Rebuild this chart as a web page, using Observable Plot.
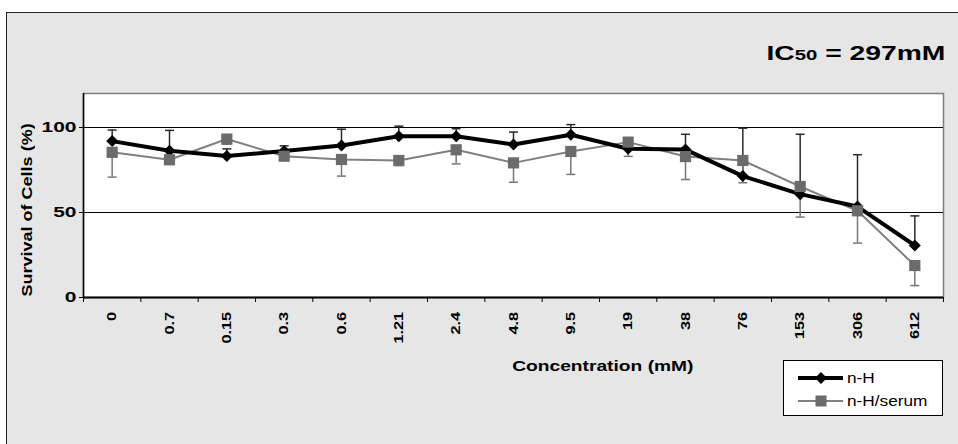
<!DOCTYPE html>
<html><head><meta charset="utf-8">
<script src="https://cdn.jsdelivr.net/npm/d3@7"></script>
<script src="https://cdn.jsdelivr.net/npm/@observablehq/plot@0.6"></script>
<style>
html,body{margin:0;padding:0;background:#fff;}
body{width:958px;height:444px;overflow:hidden;position:relative;font-family:"Liberation Sans",Arial,sans-serif;}
#frame{position:absolute;left:6px;top:12px;width:1000px;height:500px;background:#e6e6e6;border-left:1px solid #222;border-top:1px solid #222;}
#chart{position:absolute;left:0;top:0;}
.s{display:inline-block;white-space:nowrap;}
#title{position:absolute;right:13px;top:43px;font-weight:bold;font-size:19.5px;line-height:20px;white-space:nowrap;color:#000;}
#title .s{transform:scaleX(1.45);transform-origin:100% 50%;}
#title .sub{font-size:14px;}
#xlabel{position:absolute;left:473px;width:260px;top:358px;text-align:center;font-weight:bold;font-size:15px;line-height:15px;}
#xlabel .s{transform:scaleX(1.28);transform-origin:50% 50%;}
#ylabel{position:absolute;left:-103px;width:260px;top:202px;height:16px;line-height:16px;text-align:center;font-weight:bold;font-size:15px;transform:rotate(-90deg);transform-origin:50% 50%;}
#ylabel .s{transform:scaleX(1.2);transform-origin:50% 50%;}
#legend{position:absolute;left:783px;top:360px;width:158px;height:54px;background:#fff;border:1px solid #000;}
#legend svg{display:block;}
</style></head><body>
<div id="frame"></div>
<div id="chart"></div>
<div id="title"><span class="s">IC<span class="sub">50</span> = 297mM</span></div>
<div id="xlabel"><span class="s">Concentration (mM)</span></div>
<div id="ylabel"><span class="s">Survival of Cells (%)</span></div>
<div id="legend"></div>
<script>
// ---- data ----
const categories = ["0","0.7","0.15","0.3","0.6","1.21","2.4","4.8","9.5","19","38","76","153","306","612"];
const seriesNames = ["n-H", "n-H/serum"];
const nH         = [92.0, 86.3, 83.2, 86.2, 89.4, 94.8, 94.8, 90.0, 95.7, 87.5, 87.0, 71.4, 60.8, 53.5, 30.6];
const nHErrUp    = [6.5, 12.0, 4.2, 3.0, 9.6, 6.0, 4.5, 7.3, 6.0, 4.0, 9.0, 28.2, 35.2, 30.5, 17.4];
const serum      = [85.4, 81.0, 93.2, 83.1, 81.2, 80.6, 86.9, 79.2, 85.9, 91.4, 82.9, 80.6, 65.3, 51.0, 18.8];
const serumErrDn = [14.6, 2.0, 3.0, 2.0, 9.8, 3.0, 8.3, 11.4, 13.5, 8.4, 13.5, 13.1, 18.0, 19.0, 11.8];
const yTicks = [0, 50, 100];
const yDomain = [0, 120];

// ---- build tables ----
const idx = categories.map((_, i) => i);
const boundaries = categories.map((_, i) => i - 0.5).concat([categories.length - 0.5]);
const tbl = (vals, errs, dir) => vals.map((v, i) => ({i, v, end: v + dir * errs[i]}));
const dH = tbl(nH, nHErrUp, 1);
const dS = tbl(serum, serumErrDn, -1);

const capSym = {draw(ctx) { ctx.moveTo(-4.5, 0); ctx.lineTo(4.5, 0); }};
const diamondSym = {draw(ctx) { const r = 6; ctx.moveTo(0, -r); ctx.lineTo(r, 0); ctx.lineTo(0, r); ctx.lineTo(-r, 0); ctx.closePath(); }};
const squareSym = {draw(ctx) { const s = 5.6; ctx.rect(-s, -s, 2 * s, 2 * s); }};

const C = {black: "#000", blackErr: "#2a2a2a", grayLine: "#808080", grayMark: "#6b6b6b", grayErr: "#777"};
const FONT = "Liberation Sans, Arial, sans-serif";

const plot = Plot.plot({
  width: 958, height: 444,
  marginLeft: 83, marginRight: 15, marginTop: 93, marginBottom: 147,
  style: {background: "transparent", fontFamily: FONT, overflow: "visible", color: "#000"},
  x: {type: "linear", domain: [boundaries[0], boundaries[boundaries.length - 1]]},
  y: {domain: yDomain},
  marks: [
    Plot.frame({fill: "white", stroke: "#7f7f7f", strokeWidth: 1.5}),
    Plot.ruleY(yTicks.filter(d => d > 0), {stroke: "#000", strokeWidth: 1}),
    Plot.axisY({ticks: yTicks, tickSize: 4, tickPadding: 3, fontSize: 15.5, fontWeight: "bold", label: null, stroke: "#000"}),
    Plot.axisX({ticks: boundaries, tickSize: 5, tickFormat: () => "", label: null, stroke: "#000"}),
    Plot.axisX({ticks: idx, tickSize: 0, tickPadding: 14.5, tickRotate: -90, tickFormat: i => categories[i], fontSize: 13, fontWeight: "bold", label: null}),
    Plot.ruleX([boundaries[0]], {stroke: "#000", strokeWidth: 1.5}),
    Plot.ruleY([yDomain[0]], {stroke: "#000", strokeWidth: 2}),
    // lines
    Plot.line(dS, {x: "i", y: "v", stroke: C.grayLine, strokeWidth: 2}),
    Plot.line(dH, {x: "i", y: "v", stroke: C.black, strokeWidth: 4}),
    // error bars
    Plot.ruleX(dH, {x: "i", y1: "v", y2: "end", stroke: C.blackErr, strokeWidth: 1.5}),
    Plot.dot(dH, {x: "i", y: "end", symbol: capSym, fill: "none", stroke: C.blackErr, strokeWidth: 1.5}),
    Plot.ruleX(dS, {x: "i", y1: "v", y2: "end", stroke: C.grayErr, strokeWidth: 1.5}),
    Plot.dot(dS, {x: "i", y: "end", symbol: capSym, fill: "none", stroke: C.grayErr, strokeWidth: 1.5}),
    // markers
    Plot.dot(dH, {x: "i", y: "v", symbol: diamondSym, fill: C.black, stroke: "none"}),
    Plot.dot(dS, {x: "i", y: "v", symbol: squareSym, fill: C.grayMark, stroke: "none"})
  ]
});
document.getElementById("chart").append(plot);

// widen tick label glyphs along their reading direction (reference uses a wide bold face)
function widen(sel, k) {
  plot.querySelectorAll(sel).forEach(t => {
    const tr = t.getAttribute("transform");
    if (tr) t.setAttribute("transform", tr + ` scale(${k},1)`);
    else {
      const x = +t.getAttribute("x") || 0, y = +t.getAttribute("y") || 0;
      t.removeAttribute("x"); t.removeAttribute("y");
      t.setAttribute("transform", `translate(${x},${y}) scale(${k},1)`);
    }
  });
}
widen('g[aria-label="y-axis tick label"] text', 1.35);
widen('g[aria-label="x-axis tick label"] text', 1.25);

// ---- legend ----
const legStyles = [
  {stroke: C.black, sw: 4, sym: "diamond", fill: C.black},
  {stroke: C.grayLine, sw: 2, sym: "square", fill: C.grayMark}
];
const lsvg = d3.select("#legend").append("svg").attr("width", 158).attr("height", 54);
seriesNames.forEach((name, k) => {
  const y = 17 + k * 23, st = legStyles[k];
  const g = lsvg.append("g");
  g.append("line").attr("x1", 14).attr("x2", 59).attr("y1", y).attr("y2", y).attr("stroke", st.stroke).attr("stroke-width", st.sw);
  if (st.sym === "diamond") g.append("path").attr("d", `M37,${y-6}L43,${y}L37,${y+6}L31,${y}Z`).attr("fill", st.fill);
  else g.append("rect").attr("x", 31.5).attr("y", y - 5.5).attr("width", 11).attr("height", 11).attr("fill", st.fill);
  g.append("text").attr("transform", `translate(63,${y}) scale(1.15,1)`).attr("dy", "0.36em")
    .attr("font-family", FONT).attr("font-size", 15).text(name);
});
</script>
</body></html>
